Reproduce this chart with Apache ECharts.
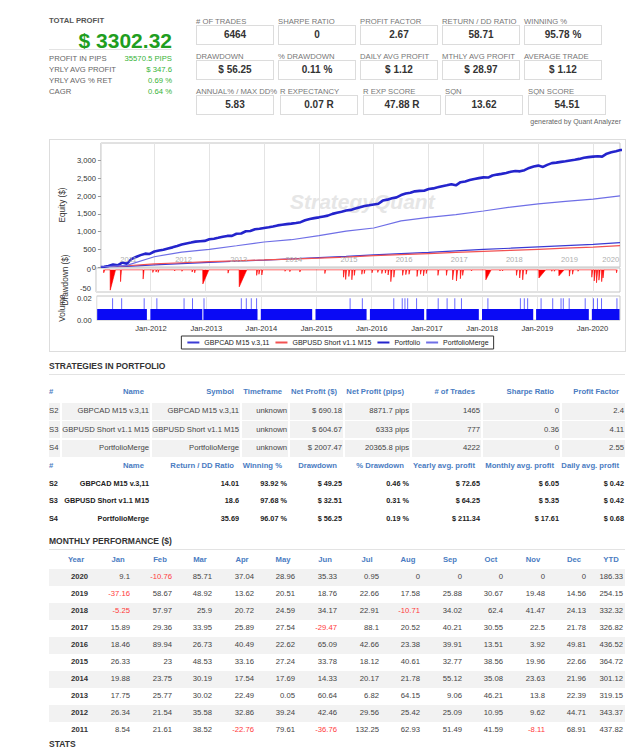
<!DOCTYPE html>
<html>
<head>
<meta charset="utf-8">
<script src="https://cdn.jsdelivr.net/npm/echarts@6/dist/echarts.min.js"></script>
<style>
html, body { margin: 0; padding: 0; background: #fff; }
body { width: 637px; height: 750px; overflow: hidden; position: relative; font-family: "Liberation Sans", Arial, sans-serif; }
.t { position: absolute; white-space: nowrap; }
.box { position: absolute; border: 1px solid #dcdcdc; box-sizing: border-box; }
.bg { position: absolute; background: #f2f2f2; }
.rule { position: absolute; height: 1px; background: #e3e3e3; }
#chart { position: absolute; left: 49px; top: 139px; width: 577px; height: 213px; border: 1px solid #ddd; box-sizing: border-box; }
</style>
</head>
<body>
<div id="chart"></div>
<script>
// ---- summary numbers
const summaryLabels = ['PROFIT IN PIPS', 'YRLY AVG PROFIT', 'YRLY AVG % RET', 'CAGR'];
const summaryValues = ['35570.5 PIPS', '$ 347.6', '0.69 %', '0.64 %'];
const statLabels = ['# OF TRADES', 'SHARPE RATIO', 'PROFIT FACTOR', 'RETURN / DD RATIO', 'WINNING %',
  'DRAWDOWN', '% DRAWDOWN', 'DAILY AVG PROFIT', 'MTHLY AVG PROFIT', 'AVERAGE TRADE',
  'ANNUAL% / MAX DD%', 'R EXPECTANCY', 'R EXP SCORE', 'SQN', 'SQN SCORE'];
const statValues = ['6464', '0', '2.67', '58.71', '95.78 %',
  '$ 56.25', '0.11 %', '$ 1.12', '$ 28.97', '$ 1.12',
  '5.83', '0.07 R', '47.88 R', '13.62', '54.51'];

// ---- strategies table
const stratIds = ['S2', 'S3', 'S4'];
const stratNames = ['GBPCAD M15 v.3,11', 'GBPUSD Short v1.1 M15', 'PortfolioMerge'];
const stratTimeframe = ['unknown', 'unknown', 'unknown'];
const stratNetProfit = ['$ 690.18', '$ 604.67', '$ 2007.47'];
const stratNetPips = ['8871.7 pips', '6333 pips', '20365.8 pips'];
const stratTrades = ['1465', '777', '4222'];
const stratSharpe = ['0', '0.36', '0'];
const stratPF = ['2.4', '4.11', '2.55'];
const stratRetDD = ['14.01', '18.6', '35.69'];
const stratWinning = ['93.92 %', '97.68 %', '96.07 %'];
const stratDD = ['$ 49.25', '$ 32.51', '$ 56.25'];
const stratDDPct = ['0.46 %', '0.31 %', '0.19 %'];
const stratYearly = ['$ 72.65', '$ 64.25', '$ 211.34'];
const stratMonthly = ['$ 6.05', '$ 5.35', '$ 17.61'];
const stratDaily = ['$ 0.42', '$ 0.42', '$ 0.68'];
const head1 = ['#', 'Name', 'Symbol', 'Timeframe', 'Net Profit ($)', 'Net Profit (pips)', '# of Trades', 'Sharpe Ratio', 'Profit Factor'];
const head2 = ['#', 'Name', 'Return / DD Ratio', 'Winning %', 'Drawdown', '% Drawdown', 'Yearly avg. profit', 'Monthly avg. profit', 'Daily avg. profit'];

// ---- monthly performance (Portfolio)
const monthHeads = ['Year', 'Jan', 'Feb', 'Mar', 'Apr', 'May', 'Jun', 'Jul', 'Aug', 'Sep', 'Oct', 'Nov', 'Dec', 'YTD'];
const perfYears = [2020, 2019, 2018, 2017, 2016, 2015, 2014, 2013, 2012, 2011];
const m2020 = [9.1, -10.76, 85.71, 37.04, 28.96, 35.33, 0.95, 0, 0, 0, 0, 0];
const m2019 = [-37.16, 58.67, 48.92, 13.62, 20.51, 18.76, 22.66, 17.58, 25.88, 30.67, 19.48, 14.56];
const m2018 = [-5.25, 57.97, 25.9, 20.72, 24.59, 34.17, 22.91, -10.71, 34.02, 62.4, 41.47, 24.13];
const m2017 = [15.89, 29.36, 33.95, 25.89, 27.54, -29.47, 88.1, 20.52, 40.21, 30.55, 22.5, 21.78];
const m2016 = [18.46, 89.94, 26.73, 40.49, 22.62, 65.09, 42.66, 23.38, 39.91, 13.51, 3.92, 49.81];
const m2015 = [26.33, 23, 48.53, 33.16, 27.24, 33.78, 18.12, 40.61, 32.77, 38.56, 19.96, 22.66];
const m2014 = [19.88, 23.75, 30.19, 17.54, 17.69, 14.33, 20.17, 21.78, 55.12, 35.08, 23.63, 21.96];
const m2013 = [17.75, 25.77, 30.02, 22.49, 0.05, 60.64, 6.82, 64.15, 9.06, 46.21, 13.8, 22.39];
const m2012 = [26.34, 21.54, 35.58, 32.86, 39.24, 42.46, 29.56, 25.42, 25.09, 10.95, 9.62, 44.71];
const m2011 = [8.54, 21.61, 38.52, -22.76, 79.61, -36.76, 132.25, 62.93, 51.49, 41.59, -8.11, 68.91];
const ytd = [186.33, 254.15, 332.32, 326.82, 436.52, 364.72, 301.12, 319.15, 343.37, 437.82];

// ---- chart data
const equityDates = ['2011-01-10', '2011-07-01', '2012-01-01', '2012-07-01', '2013-01-01', '2013-07-01',
  '2014-01-01', '2014-07-01', '2015-01-01', '2015-07-01', '2016-01-01', '2016-07-01', '2017-01-01',
  '2017-07-01', '2018-01-01', '2018-07-01', '2019-01-01', '2019-07-01', '2020-01-01', '2020-06-28'];
const gbpcadEq = [0, 15, 60, 95, 130, 165, 195, 230, 265, 300, 345, 380, 415, 455, 495, 530, 570, 605, 640, 690.18];
const gbpusdEq = [0, 35, 90, 120, 150, 175, 200, 225, 250, 280, 320, 350, 380, 410, 440, 470, 500, 530, 560, 604.67];
const mergeEq = [0, 45, 290, 420, 500, 600, 705, 770, 885, 1010, 1100, 1300, 1400, 1480, 1580, 1690, 1780, 1850, 1916, 2007.47];
const yearLabels = ['2011', '2012', '2013', '2014', '2015', '2016', '2017', '2018', '2019', '2020'];
const lastMonth = '2020-06';

// drawdown: [date, depth $, days to recover]
const ddEvents = [
  ['2011-03-02', -8, 7], ['2011-04-14', -55, 35], ['2011-06-21', -32, 6], ['2011-11-17', -25, 6],
  ['2012-01-20', -7, 5], ['2012-02-10', -6, 5], ['2012-02-24', -7, 5], ['2012-06-12', -3, 4],
  ['2012-07-30', -4, 4], ['2012-10-05', -6, 5], ['2012-10-22', -8, 5], ['2012-12-15', -38, 40],
  ['2013-05-30', -9, 6], ['2013-08-12', -46, 50], ['2013-12-05', -15, 6], ['2013-12-20', -12, 6],
  ['2014-01-08', -14, 6], ['2014-06-10', -4, 4], ['2014-07-12', -5, 4], ['2014-09-16', -6, 5],
  ['2015-02-28', -10, 5], ['2015-07-01', -20, 6], ['2015-07-15', -26, 6], ['2015-08-05', -18, 6],
  ['2015-08-25', -27, 6], ['2015-09-10', -15, 6], ['2015-10-30', -12, 5], ['2015-11-15', -10, 5],
  ['2016-01-05', -8, 5], ['2016-02-12', -7, 5], ['2016-03-10', -10, 5], ['2016-04-02', -9, 5],
  ['2016-04-20', -14, 6], ['2016-05-08', -32, 8], ['2016-05-28', -20, 6], ['2016-07-25', -15, 6],
  ['2016-08-15', -13, 6], ['2016-09-05', -12, 6], ['2016-10-28', -18, 6], ['2016-11-20', -12, 6],
  ['2016-12-10', -16, 6], ['2016-12-28', -10, 5], ['2017-03-15', -15, 6], ['2017-05-10', -15, 6],
  ['2017-06-20', -27, 8], ['2017-07-15', -30, 8], ['2017-08-10', -24, 6], ['2017-08-25', -15, 6],
  ['2017-10-22', -3, 4], ['2018-01-25', -27, 35], ['2018-04-28', -3, 4], ['2018-05-15', -3, 4],
  ['2018-08-15', -15, 6], ['2018-09-05', -22, 6], ['2018-09-25', -27, 6], ['2018-10-18', -12, 6],
  ['2019-01-10', -22, 45], ['2019-04-05', -4, 4], ['2019-04-22', -4, 4], ['2019-05-22', -16, 35],
  ['2019-07-30', -17, 6], ['2019-08-20', -12, 6], ['2019-09-25', -4, 4], ['2019-12-25', -20, 6],
  ['2020-01-10', -30, 8], ['2020-01-25', -35, 8], ['2020-02-10', -28, 8], ['2020-02-28', -32, 8],
  ['2020-03-08', -22, 6], ['2020-06-05', -8, 5]
];

// volume: base lot 0.01 with holiday gaps, plus days with 0.02
const volGaps = [
  ['2011-12-05', '2011-12-28'], ['2012-12-06', '2012-12-14'], ['2013-12-06', '2013-12-28'],
  ['2014-12-03', '2014-12-25'], ['2015-11-28', '2015-12-20'], ['2016-12-13', '2016-12-28'],
  ['2017-12-10', '2017-12-31'], ['2018-12-05', '2018-12-24'], ['2019-12-08', '2019-12-28']
];
const volSpikes = ['2011-04-22', '2011-06-21', '2011-11-17', '2012-02-09', '2012-08-07', '2012-10-02',
  '2012-12-17', '2013-08-21', '2013-09-23', '2013-10-26', '2013-11-30', '2015-08-11', '2015-10-31',
  '2016-05-26', '2016-07-21', '2016-08-08', '2016-08-26', '2016-10-24', '2017-03-16', '2017-05-14',
  '2017-07-04', '2017-08-17', '2018-02-08', '2018-09-11', '2018-10-07', '2018-10-29', '2019-01-26',
  '2019-04-13', '2019-06-07', '2019-06-22', '2019-07-31', '2019-11-14', '2020-01-08', '2020-02-03',
  '2020-03-01', '2020-06-11'];

// ================= page text =================
function put(s, x, y, o) {
  o = o || {};
  const d = document.createElement('div');
  d.className = 't';
  d.textContent = s;
  const size = o.size || 7.7;
  const lh = Math.max(14, Math.round(size * 1.3));
  d.style.fontSize = size + 'px';
  d.style.lineHeight = lh + 'px';
  d.style.top = (y - lh / 2) + 'px';
  d.style.color = o.color || '#333';
  if (o.bold) d.style.fontWeight = 'bold';
  if (o.align === 'right') {
    d.style.left = (x - 300) + 'px'; d.style.width = '300px'; d.style.textAlign = 'right';
  } else if (o.align === 'center') {
    d.style.left = (x - 150) + 'px'; d.style.width = '300px'; d.style.textAlign = 'center';
  } else {
    d.style.left = x + 'px';
  }
  document.body.appendChild(d);
}
function block(cls, x, y, w, h) {
  const d = document.createElement('div');
  d.className = cls;
  d.style.left = x + 'px'; d.style.top = y + 'px';
  d.style.width = w + 'px'; if (h) d.style.height = h + 'px';
  document.body.appendChild(d);
}

// total profit block
put('TOTAL PROFIT', 49, 21, {bold: true, color: '#555'});
put('$ 3302.32', 172, 40, {size: 21, bold: true, color: '#1f9e1f', align: 'right'});
block('rule', 49, 49, 123);
const sumY = [58.5, 70.3, 81, 92];
summaryLabels.forEach((s, i) => {
  put(s, 49, sumY[i], {color: '#666'});
  put(summaryValues[i], 172, sumY[i], {color: '#36b336', align: 'right'});
});

// stat boxes
const boxLeft = [[196, 278, 360, 442, 524], [196, 278, 360, 442, 524], [196, 280, 363, 445, 528]];
const boxTop = [25, 60, 95];
statLabels.forEach((s, i) => {
  const r = Math.floor(i / 5), c = i % 5;
  const x = boxLeft[r][c], y = boxTop[r];
  put(s, x, y - 3.5, {color: '#777'});
  block('box', x, y, 78, 20);
  put(statValues[i], x + 39, y + 10, {size: 10, bold: true, color: '#333', align: 'center'});
});
put('generated by Quant Analyzer', 621, 122, {size: 7, color: '#666', align: 'right'});

// strategies in portfolio
put('STRATEGIES IN PORTFOLIO', 49, 366, {size: 8.5, bold: true, color: '#333'});
block('rule', 49, 374, 576);
const colEdge = [49, 61, 151, 241, 289, 344, 411, 482, 561, 626];
const blue = '#4a7cc2';
function headRow(heads, y) {
  heads.forEach((h, c) => {
    if (c === 0) put(h, 49, y, {bold: true, color: blue});
    else put(h, colEdge[c + 1] - 7, y, {bold: true, color: blue, align: 'right'});
  });
}
headRow(head1, 392);
const t1Y = [411, 429.5, 448];
stratIds.forEach((id, r) => {
  const cells = [id, stratNames[r], stratNames[r], stratTimeframe[r], stratNetProfit[r], stratNetPips[r],
    stratTrades[r], stratSharpe[r], stratPF[r]];
  cells.forEach((v, c) => {
    const x0 = colEdge[c] + (c > 0 ? 1 : 0), x1 = colEdge[c + 1] - 1;
    block('bg', x0, t1Y[r] - 8.5, x1 - x0, 17);
    if (c === 0) put(v, 49, t1Y[r], {color: '#444'});
    else put(v, colEdge[c + 1] - 2, t1Y[r], {color: '#444', align: 'right'});
  });
});
headRow(head2, 466);
const t2Y = [483.5, 501, 518.5];
stratIds.forEach((id, r) => {
  const cells = [id, stratNames[r], stratRetDD[r], stratWinning[r], stratDD[r], stratDDPct[r],
    stratYearly[r], stratMonthly[r], stratDaily[r]];
  cells.forEach((v, c) => {
    if (c === 0) put(v, 49, t2Y[r], {bold: true, size: 7.3, color: '#222'});
    else put(v, colEdge[c + 1] - 2, t2Y[r], {bold: true, size: 7.3, color: '#222', align: 'right'});
  });
});

// monthly performance
put('MONTHLY PERFORMANCE ($)', 49, 541, {size: 8.5, bold: true, color: '#333'});
block('rule', 49, 549, 576);
const monthRight = [88, 130, 172, 212, 254, 295, 337, 379, 420, 462, 503, 545, 586, 623];
monthHeads.forEach((h, c) => put(h, monthRight[c] - 12, 560, {bold: true, color: blue, align: 'center'}));
const perfRows = [m2020, m2019, m2018, m2017, m2016, m2015, m2014, m2013, m2012, m2011];
perfRows.forEach((row, r) => {
  const y = 577 + 17 * r;
  if (r % 2 === 0) block('bg', 49, y - 8.5, 576, 17);
  put(String(perfYears[r]), monthRight[0], y, {bold: true, color: '#333', align: 'right'});
  row.concat([ytd[r]]).forEach((v, c) => {
    put(String(v), monthRight[c + 1], y, {color: v < 0 ? '#ff3a3a' : '#444', align: 'right'});
  });
});
put('STATS', 49, 744, {size: 8.5, bold: true, color: '#333'});

// ================= chart =================
function ts(s) { return new Date(s + 'T00:00:00').getTime(); }
const DAY = 86400000;
const xMin = ts('2011-01-10'), xMax = ts('2020-06-28');

// Portfolio equity: running total of the monthly table
const chrono = [m2011, m2012, m2013, m2014, m2015, m2016, m2017, m2018, m2019, m2020];
const portfolioEq = [[xMin, 0]];
let cum = 0;
chrono.forEach((row, yi) => {
  row.forEach((v, mi) => {
    cum += v;
    portfolioEq.push([new Date(2011 + yi, mi + 1, 1).getTime(), +cum.toFixed(2)]);
  });
});
const pair = arr => equityDates.map((d, i) => [ts(d), arr[i]]);

const ddData = [];
ddEvents.forEach(([d, v, rec]) => {
  const t = ts(d);
  ddData.push([t - DAY, 0], [t, v], [t + rec * DAY, 0]);
});

const volBase = [[xMin, 0.01]];
volGaps.forEach(([a, b]) => { volBase.push([ts(a), 0], [ts(b), 0.01]); });
volBase.push([xMax, 0.01]);

// month categories for the faint year captions, each caption on the middle of its year's span
const monthsCat = [];
const yearMid = {};
yearLabels.forEach(y => {
  const list = [];
  for (let m = 1; m <= 12; m++) {
    const key = y + '-' + String(m).padStart(2, '0');
    if (key <= lastMonth) list.push(key);
  }
  yearMid[list[Math.floor(list.length / 2)]] = y;
  monthsCat.push(...list);
});

const gridL = 46, gridR = 5;
const yearMs = 300 * DAY;
const timeAxisBase = {
  type: 'time', min: xMin, max: xMax, minInterval: yearMs, maxInterval: yearMs,
  axisLine: {show: false}, axisTick: {show: false},
  splitLine: {show: true, lineStyle: {color: '#e4e4e4', width: 1}}
};
const axisFont = {fontSize: 7.6, color: '#333', fontFamily: 'Liberation Sans'};
const nameFont = {fontSize: 8.2, color: '#333', fontFamily: 'Liberation Sans'};

const option = {
  animation: false,
  textStyle: {fontFamily: 'Liberation Sans'},
  grid: [
    {left: gridL, right: gridR, top: 3, height: 124, show: true, borderColor: '#c4c4c4', backgroundColor: 'transparent'},
    {left: gridL, right: gridR, top: 128, height: 24, show: true, borderColor: '#c4c4c4', backgroundColor: 'transparent'},
    {left: gridL, right: gridR, top: 156, height: 24, show: true, borderColor: '#c4c4c4', backgroundColor: 'transparent'}
  ],
  xAxis: [
    Object.assign({gridIndex: 0, axisLabel: {show: false}}, timeAxisBase),
    {type: 'category', gridIndex: 0, data: monthsCat, boundaryGap: false, position: 'bottom', z: 5,
      axisLine: {show: false}, axisTick: {show: false}, splitLine: {show: false},
      axisLabel: {inside: true, margin: 4, fontSize: 7.6, color: '#b0b0b0',
        showMinLabel: true, showMaxLabel: true,
        interval: (idx, val) => yearMid[val] !== undefined,
        formatter: val => yearMid[val] || ''}},
    Object.assign({gridIndex: 1, axisLabel: {show: false}}, timeAxisBase),
    Object.assign({gridIndex: 2, axisLabel: Object.assign({show: true, margin: 4,
      formatter: v => { const d = new Date(v); return (d.getMonth() === 0 && d.getDate() === 1) ? 'Jan-' + d.getFullYear() : ''; }
    }, axisFont)}, timeAxisBase)
  ],
  yAxis: [
    {type: 'value', gridIndex: 0, min: 0, max: 3500, interval: 500, name: 'Equity ($)', nameLocation: 'middle', nameGap: 24,
      nameTextStyle: nameFont, axisLine: {show: false}, axisTick: {show: true, length: 3, lineStyle: {color: '#999'}},
      splitLine: {show: false},
      axisLabel: Object.assign({margin: 5, showMaxLabel: false, formatter: v => v.toLocaleString('en-US')}, axisFont)},
    {type: 'value', gridIndex: 1, min: -60, max: 5, interval: 10, name: 'Drawdown ($)', nameLocation: 'middle', nameGap: 24,
      nameTextStyle: nameFont, axisLine: {show: false}, axisTick: {show: false}, splitLine: {show: false},
      axisLabel: Object.assign({margin: 5, showMaxLabel: false, showMinLabel: false,
        formatter: v => (v === 0 || v === -50) ? String(v) : ''}, axisFont)},
    {type: 'value', gridIndex: 2, min: 0, max: 0.022, interval: 0.02, name: 'Volume', nameLocation: 'middle', nameGap: 26,
      nameTextStyle: nameFont, axisLine: {show: false}, axisTick: {show: false}, splitLine: {show: false},
      axisLabel: Object.assign({margin: 5, showMaxLabel: false, formatter: v => v.toFixed(2)}, axisFont)}
  ],
  legend: {
    bottom: 2, left: 'center',
    data: ['GBPCAD M15 v.3,11', 'GBPUSD Short v1.1 M15', 'Portfolio', 'PortfolioMerge'],
    borderColor: '#333', borderWidth: 1, borderRadius: 0, padding: [3, 5, 3, 5],
    itemGap: 5, itemWidth: 12, itemHeight: 8,
    itemStyle: {opacity: 0},
    textStyle: {fontSize: 7, color: '#222', fontFamily: 'Liberation Sans'}
  },
  graphic: [{
    type: 'text', left: 240, top: 51, z: 1,
    style: {text: 'StrategyQuant', font: 'italic bold 21px "Liberation Sans"', fill: '#e6e6e6'}
  }],
  series: [
    {name: 'GBPCAD M15 v.3,11', type: 'line', xAxisIndex: 0, yAxisIndex: 0, data: pair(gbpcadEq),
      symbol: 'none', color: '#3b3bd4', lineStyle: {width: 1.2, color: '#3b3bd4'}},
    {name: 'GBPUSD Short v1.1 M15', type: 'line', xAxisIndex: 0, yAxisIndex: 0, data: pair(gbpusdEq),
      symbol: 'none', color: '#f25252', lineStyle: {width: 1.2, color: '#f25252'}},
    {name: 'Portfolio', type: 'line', xAxisIndex: 0, yAxisIndex: 0, data: portfolioEq,
      symbol: 'none', color: '#2424cc', lineStyle: {width: 2.6, color: '#2424cc'}},
    {name: 'PortfolioMerge', type: 'line', xAxisIndex: 0, yAxisIndex: 0, data: pair(mergeEq),
      symbol: 'none', color: '#6f6fe6', lineStyle: {width: 1.2, color: '#6f6fe6'}},
    {name: 'Drawdown', type: 'line', xAxisIndex: 2, yAxisIndex: 1, data: ddData, symbol: 'none',
      lineStyle: {width: 0.6, color: '#ff0000'}, areaStyle: {color: '#ff0000', opacity: 1}},
    {name: 'Volume', type: 'line', xAxisIndex: 3, yAxisIndex: 2, data: volBase, step: 'end', symbol: 'none',
      lineStyle: {width: 0}, areaStyle: {color: '#0a0af5', opacity: 1}},
    {name: 'Volume2', type: 'bar', xAxisIndex: 3, yAxisIndex: 2, barWidth: 1,
      data: volSpikes.map(d => [ts(d), 0.02]), itemStyle: {color: '#6a6aff'}}
  ]
};

const chart = echarts.init(document.getElementById('chart'), null, {renderer: 'svg'});
chart.setOption(option);
window.addEventListener('resize', () => chart.resize());
</script>
</body>
</html>
